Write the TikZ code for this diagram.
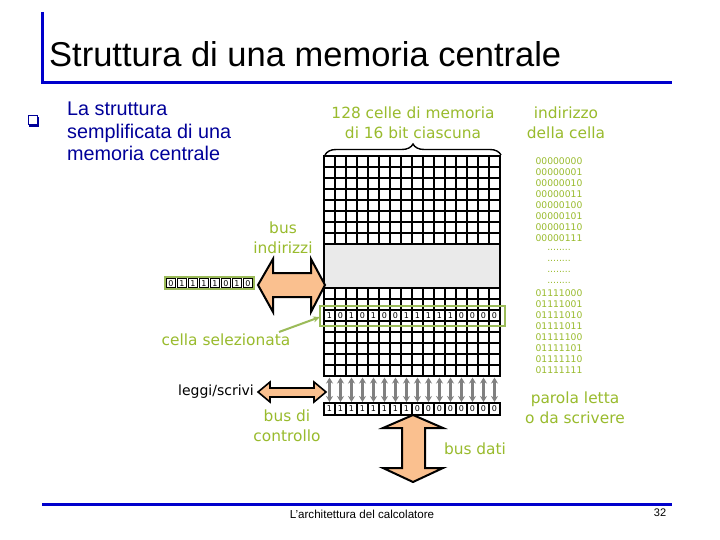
\documentclass[tikz,border=0pt]{standalone}
\usepackage{fontspec}
\setmainfont{Liberation Sans}
\newfontfamily\gfont{DejaVu Sans}
\usetikzlibrary{decorations.pathreplacing,arrows.meta}
\definecolor{lblgreen}{RGB}{153,187,45}
\definecolor{boxgreen}{RGB}{155,187,89}
\definecolor{busorange}{RGB}{250,192,143}
\definecolor{titleblue}{RGB}{0,0,204}
\definecolor{textblue}{RGB}{0,0,153}
\definecolor{cellgray}{RGB}{234,234,234}
\definecolor{arrgray}{RGB}{128,128,128}
\newcommand{\dotrow}{\mbox{.}\mbox{.}\mbox{.}\mbox{.}\mbox{.}\mbox{.}\mbox{.}\mbox{.}}
\begin{document}
\begin{tikzpicture}[x=1pt,y=-1pt,
  lbl/.style={font=\gfont\fontsize{15.4}{20}\selectfont, text=lblgreen, align=center, inner sep=0pt},
  blk/.style={font=\gfont\fontsize{14}{18}\selectfont, text=black, inner sep=0pt},
  addr/.style={font=\gfont\fontsize{9.2}{11}\selectfont, text=lblgreen, inner sep=0pt},
  bitt/.style={font=\gfont\fontsize{8}{8}\selectfont, inner sep=0pt},
  gridline/.style={draw=black, line width=1.6pt},
  bus/.style={draw=black, line width=2pt, fill=busorange, line join=miter},
  vbus/.style={arrgray, line width=2.4pt, {Stealth[length=6pt,width=7pt]}-{Stealth[length=6pt,width=7pt]}},
]
\useasboundingbox (0,0) rectangle (720,540);
\fill[white] (0,0) rectangle (720,540);

% title
\draw[titleblue, line width=3pt] (42,12) -- (42,83) -- (672,83);
\node[anchor=west, inner sep=0pt, font=\fontsize{34.5}{40}\selectfont] (title) at (49,54) {Struttura di una memoria centrale};

% bullet
\draw[textblue, line width=1pt] (28,116) rectangle (37,125);
\draw[textblue, line width=1.6pt] (29,126) -- (38,126) -- (38,117);
\node[anchor=north west, inner sep=0pt, align=left, text=textblue, font=\fontsize{19.8}{22.5}\selectfont] (intro) at (67,102)
  {La struttura\\semplificata di una\\memoria centrale};

% memory grid
\coordinate (memNW) at (324,156);
\coordinate (memSE) at (500,376);
\fill[white] (memNW) rectangle (memSE);
\fill[cellgray] (324,244) rectangle (500,288);
\foreach \i in {1,...,15} {
  \draw[gridline] (324+11*\i,156) -- ++(0,88);
  \draw[gridline] (324+11*\i,288) -- ++(0,88);
}
\foreach \j in {1,...,7} {
  \draw[gridline] (324,156+11*\j) -- ++(176,0);
  \draw[gridline] (324,288+11*\j) -- ++(176,0);
}
\draw[gridline] (324,244) -- (500,244);
\draw[gridline] (324,288) -- (500,288);
\draw[gridline] (memNW) rectangle (memSE);

% selected cell
\foreach \b [count=\k from 0] in {1,0,1,0,1,0,0,1,1,1,1,1,0,0,0,0} {
  \node[bitt] (s\k) at (329.5+11*\k,315.7) {\b};
}
\draw[boxgreen, line width=2pt] (320,306) rectangle (505,326);
\coordinate (selbox) at (320,317);

% brace
\draw[line width=1.4pt, decorate, decoration={brace, amplitude=11pt}] (325,155) -- (501,155);
\node[lbl] (celle) at (413,123) {128 celle di memoria\\di 16 bit ciascuna};
\node[lbl] (indir) at (566,123) {indirizzo\\della cella};

% addresses
\foreach \a [count=\k from 0] in {00000000,00000001,00000010,00000011,00000100,00000101,00000110,00000111} {
  \node[addr] (a\k) at (559,161.5+11*\k) {\a};
}
\foreach \k in {0,...,3} {
  \node[addr] (dots\k) at (559,249.5+11*\k) {\dotrow};
}
\foreach \a [count=\k from 0] in {01111000,01111001,01111010,01111011,01111100,01111101,01111110,01111111} {
  \node[addr] (b\k) at (559,293.5+11*\k) {\a};
}

% address register
\draw[boxgreen, line width=2pt] (165,277) rectangle (254,289);
\foreach \b [count=\k from 0] in {0,1,1,1,1,0,1,0} {
  \draw[black, line width=0.6pt] (166.5+11*\k,278.5) rectangle ++(9,9);
  \node[bitt] (r\k) at (171+11*\k,283.2) {\b};
}
\node[lbl] (busind) at (283,238) {bus\\indirizzi};
\draw[bus] (258,285) -- (273,259) -- (273,273) -- (311,273) -- (311,259) -- (325,285)
  -- (311,312) -- (311,297) -- (273,297) -- (273,312) -- cycle;

\node[lbl, anchor=center] (cellsel) at (226,340) {cella selezionata};
\draw[boxgreen, line width=2pt, -{Stealth[length=7pt,width=6pt]}] (279,332) -- (selbox);

% control bus
\node[blk] (rw) at (216,392) {leggi/scrivi};
\draw[bus, line width=1.6pt] (258,392) -- (270,382) -- (270,388) -- (314,388) -- (314,382) -- (326,392)
  -- (314,402) -- (314,397) -- (270,397) -- (270,402) -- cycle;
\node[lbl] (busctl) at (287,426) {bus di\\controllo};

% vertical gray arrows
\foreach \k in {0,...,15} {
  \draw[vbus] (329.5+11*\k,377.5) -- (329.5+11*\k,402);
}

% data register
\draw[black, line width=1pt, fill=white] (324,403) rectangle (500,415);
\foreach \i in {1,...,15} { \draw[black, line width=1.2pt] (324+11*\i,403) -- ++(0,12); }
\foreach \b [count=\k from 0] in {1,1,1,1,1,1,1,1,0,0,0,0,0,0,0,0} {
  \node[bitt] (d\k) at (329.5+11*\k,409) {\b};
}
\draw[black, line width=2pt] (324,403) rectangle (500,415);

% data bus
\draw[bus] (413,415) -- (443,428) -- (425,428) -- (425,468) -- (443,468) -- (413,482)
  -- (383,468) -- (402,468) -- (402,428) -- (383,428) -- cycle;
\node[lbl] (busdati) at (475,449) {bus dati};
\node[lbl] (parola) at (575,408) {parola letta\\o da scrivere};

% footer
\draw[titleblue, line width=3pt] (42,504) -- (672,504);
\node[inner sep=0pt, font=\fontsize{11.6}{13}\selectfont] (foot) at (362,514) {L'architettura del calcolatore};
\node[inner sep=0pt, font=\fontsize{11}{13}\selectfont] (page) at (660,513) {32};
\end{tikzpicture}
\end{document}
